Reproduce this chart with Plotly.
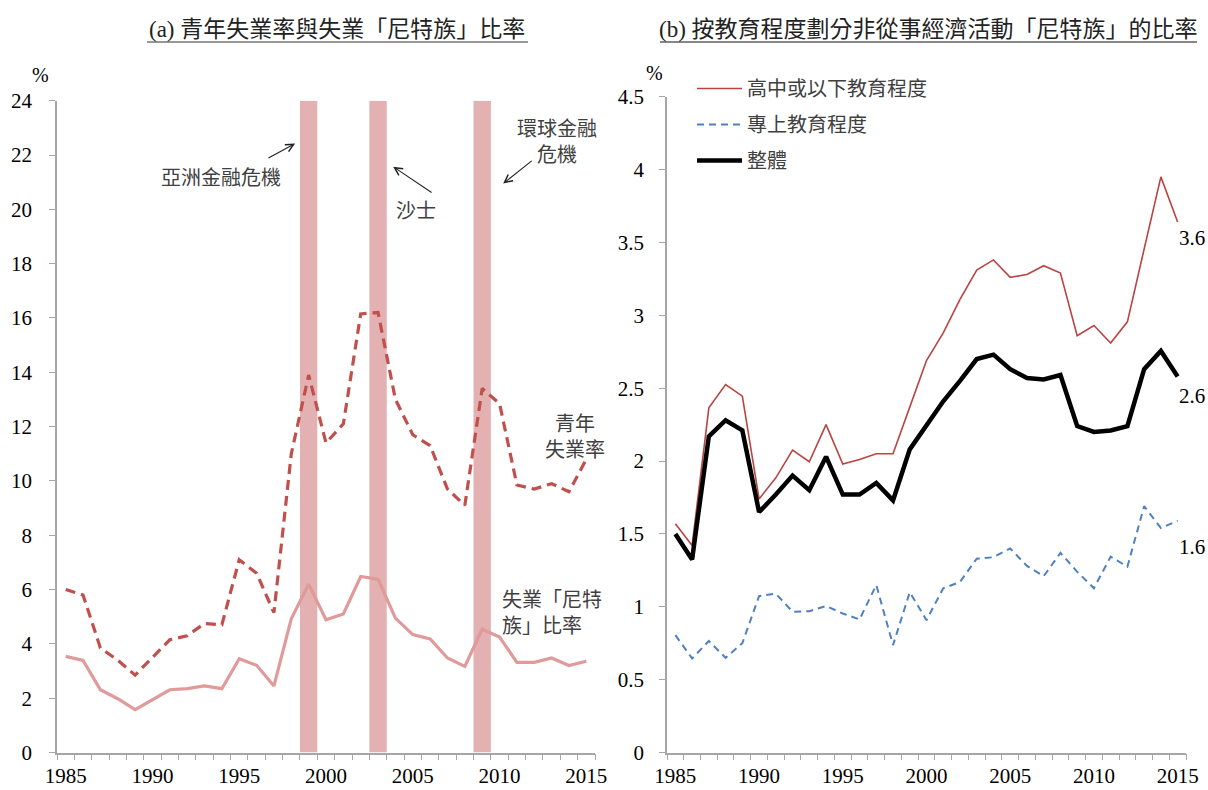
import plotly.graph_objects as go

# ---------------- data ----------------
years = list(range(1985, 2016))

# (a) youth unemployment rate and unemployed "NEET" rate (%)
youth_unemp = [6.0, 5.8, 3.85, 3.4, 2.85, 3.5, 4.15, 4.3, 4.75, 4.7,
               7.1, 6.6, 5.15, 11.0, 13.9, 11.4, 12.1, 16.15, 16.2, 13.0,
               11.7, 11.3, 9.7, 9.1, 13.4, 12.85, 9.85, 9.7, 9.9, 9.6, 10.8]
neet_unemp = [3.54, 3.39, 2.31, 1.98, 1.58, 1.95, 2.31, 2.35, 2.45, 2.35,
              3.45, 3.21, 2.45, 4.92, 6.2, 4.89, 5.1, 6.48, 6.38, 4.95,
              4.34, 4.18, 3.48, 3.17, 4.54, 4.25, 3.32, 3.32, 3.48, 3.2, 3.36]
crisis_years = [1999, 2003, 2009]

# (b) inactive "NEET" rate by education (%)
hs_below = [1.57, 1.42, 2.365, 2.525, 2.445, 1.74, 1.885, 2.075, 1.995, 2.25,
            1.98, 2.01, 2.05, 2.05, 2.37, 2.69, 2.88, 3.11, 3.31, 3.38,
            3.26, 3.28, 3.34, 3.29, 2.86, 2.93, 2.81, 2.955, 3.455, 3.95, 3.64]
post_sec = [0.805, 0.645, 0.765, 0.65, 0.75, 1.073, 1.09, 0.966, 0.97, 1.005,
            0.954, 0.913, 1.149, 0.737, 1.10, 0.908, 1.127, 1.17, 1.33, 1.34,
            1.40, 1.28, 1.21, 1.37, 1.24, 1.127, 1.344, 1.275, 1.69, 1.54, 1.59]
overall = [1.50, 1.325, 2.17, 2.28, 2.21, 1.65, 1.77, 1.90, 1.80, 2.03,
           1.77, 1.77, 1.85, 1.73, 2.08, 2.24, 2.41, 2.55, 2.70, 2.73,
           2.63, 2.57, 2.56, 2.59, 2.24, 2.20, 2.21, 2.24, 2.63, 2.755, 2.58]

x_ticks = [1985, 1990, 1995, 2000, 2005, 2010, 2015]
left_yticks = [0, 2, 4, 6, 8, 10, 12, 14, 16, 18, 20, 22, 24]
right_yticks = [0, 0.5, 1, 1.5, 2, 2.5, 3, 3.5, 4, 4.5]

# ---------------- style ----------------
W, H = 1208, 790
SERIF = "Liberation Serif, Times New Roman, serif"
CJK = "Noto Sans CJK TC, sans-serif"
MIX = "Liberation Serif, Noto Sans CJK TC, serif"
AXIS_GREY = "#A6A6A6"
TXT_GREY = "#404040"
LEFT_YMAX = 24


def px_x(p):
    """screen pixel x -> paper fraction"""
    return p / W


def px_y(p):
    """screen pixel y -> paper fraction"""
    return (H - p) / H


fig = go.Figure()

# crisis shading bars (left panel)
fig.add_trace(go.Bar(x=crisis_years, y=[LEFT_YMAX] * len(crisis_years), width=1,
                     marker=dict(color="#E3B1B1", line=dict(width=0)),
                     xaxis="x", yaxis="y", showlegend=False, hoverinfo="skip"))
fig.add_trace(go.Scatter(x=years, y=neet_unemp, mode="lines",
                         line=dict(color="#E09A9A", width=3.2),
                         xaxis="x", yaxis="y", showlegend=False))
fig.add_trace(go.Scatter(x=years, y=youth_unemp, mode="lines",
                         line=dict(color="#C0504D", width=3.2, dash="10px,6px"),
                         xaxis="x", yaxis="y", showlegend=False))

# right panel
fig.add_trace(go.Scatter(x=years, y=hs_below, mode="lines", name="高中或以下教育程度",
                         line=dict(color="#B94442", width=1.6),
                         xaxis="x2", yaxis="y2", legendgroup="a"))
fig.add_trace(go.Scatter(x=years, y=post_sec, mode="lines", name="專上教育程度",
                         line=dict(color="#4F81BD", width=2, dash="7px,5px"),
                         xaxis="x2", yaxis="y2", legendgroup="b"))
fig.add_trace(go.Scatter(x=years, y=overall, mode="lines", name="整體",
                         line=dict(color="#000000", width=4.5),
                         xaxis="x2", yaxis="y2", legendgroup="c"))

xaxis_common = dict(
    range=[years[0] - 0.5, years[-1] + 0.5],
    tickvals=x_ticks, ticktext=[str(v) for v in x_ticks],
    ticks="", showgrid=False, zeroline=False, automargin=False,
    showline=True, linecolor=AXIS_GREY, linewidth=1.5,
    tickfont=dict(family=SERIF, size=21, color="black"),
    ticklabelstandoff=4,
    minor=dict(ticks="outside", tick0=years[0] - 0.5, dtick=1, ticklen=6,
               tickcolor=AXIS_GREY, tickwidth=1.2, showgrid=False),
    fixedrange=True,
)
yaxis_common = dict(
    ticks="outside", ticklen=6, tickcolor=AXIS_GREY, tickwidth=1.2,
    showgrid=False, zeroline=False, automargin=False,
    showline=True, linecolor=AXIS_GREY, linewidth=1.5,
    tickfont=dict(family=SERIF, size=21, color="black"),
    fixedrange=True,
)

fig.update_layout(
    width=W, height=H,
    margin=dict(l=0, r=0, t=0, b=0, autoexpand=False),
    paper_bgcolor="white", plot_bgcolor="white",
    barmode="overlay",
    xaxis=dict(domain=[px_x(57), px_x(595)], anchor="y", **xaxis_common),
    yaxis=dict(domain=[px_y(752.5), px_y(100.7)], anchor="x", range=[0, LEFT_YMAX],
               tickvals=left_yticks, ticktext=[str(v) for v in left_yticks],
               ticklabelstandoff=13, **yaxis_common),
    xaxis2=dict(domain=[px_x(667), px_x(1186)], anchor="y2", **xaxis_common),
    yaxis2=dict(domain=[px_y(752.5), px_y(96.7)], anchor="x2", range=[0, right_yticks[-1]],
                tickvals=right_yticks, ticktext=[f"{v:g}" for v in right_yticks],
                ticklabelstandoff=11, **yaxis_common),
    legend=dict(x=px_x(692), y=px_y(69), xanchor="left", yanchor="top",
                font=dict(family=CJK, size=20, color=TXT_GREY),
                bgcolor="rgba(0,0,0,0)", tracegroupgap=7, itemwidth=45),
    showlegend=True,
)

ann = []
# titles
ann.append(dict(text="(a) 青年失業率與失業「尼特族」比率", x=px_x(337), y=px_y(30),
                xref="paper", yref="paper", showarrow=False, xanchor="center", yanchor="middle",
                font=dict(family=MIX, size=23, color="#222222")))
ann.append(dict(text="(b) 按教育程度劃分非從事經濟活動「尼特族」的比率", x=px_x(928), y=px_y(30),
                xref="paper", yref="paper", showarrow=False, xanchor="center", yanchor="middle",
                font=dict(family=MIX, size=23, color="#222222")))
# % units
ann.append(dict(text="%", x=px_x(40), y=px_y(75), xref="paper", yref="paper", showarrow=False,
                xanchor="center", yanchor="middle",
                font=dict(family=SERIF, size=20, color="black")))
ann.append(dict(text="%", x=px_x(654), y=px_y(73), xref="paper", yref="paper", showarrow=False,
                xanchor="center", yanchor="middle",
                font=dict(family=SERIF, size=20, color="black")))

# left annotations
cjk_font = dict(family=CJK, size=20, color=TXT_GREY)
ann.append(dict(text="亞洲金融危機", x=1993.95, y=21.22, xref="x", yref="y", showarrow=False,
                xanchor="center", font=cjk_font))
ann.append(dict(text="沙士", x=2005.19, y=20.0, xref="x", yref="y", showarrow=False,
                xanchor="center", font=cjk_font))
ann.append(dict(text="環球金融<br>危機", x=2013.32, y=22.53, xref="x", yref="y", showarrow=False,
                xanchor="center", font=cjk_font))
ann.append(dict(text="青年<br>失業率", x=2014.35, y=11.67, xref="x", yref="y", showarrow=False,
                xanchor="center", font=cjk_font))
ann.append(dict(text="失業「尼特<br>族」比率", x=2010.0, y=5.2, xref="x", yref="y", showarrow=False,
                xanchor="left", align="left", font=cjk_font))

# arrows
arrow_style = dict(showarrow=True, arrowhead=5, arrowsize=1.4, arrowwidth=1.1, arrowcolor="#222222",
                   text="", xref="x", yref="y", axref="x", ayref="y")
ann.append(dict(x=1998.22, y=22.42, ax=1996.6, ay=21.86, **arrow_style))
ann.append(dict(x=2003.87, y=21.57, ax=2006.17, ay=20.58, **arrow_style))
ann.append(dict(x=2010.21, y=20.95, ax=2011.94, ay=21.83, **arrow_style))

# end value labels (right)
for series, shift in [(hs_below, -16), (overall, -19), (post_sec, -26)]:
    ann.append(dict(text=f"{series[-1]:.1f}", x=years[-1], y=series[-1], xref="x2", yref="y2",
                    showarrow=False, xanchor="left", yshift=shift, xshift=-1,
                    font=dict(family=SERIF, size=21, color="black")))

fig.update_layout(annotations=ann)

# title underlines
fig.add_shape(type="line", xref="paper", yref="paper", x0=px_x(147), x1=px_x(528),
              y0=px_y(42), y1=px_y(42), line=dict(color="#333333", width=1.2))
fig.add_shape(type="line", xref="paper", yref="paper", x0=px_x(660), x1=px_x(1197),
              y0=px_y(42), y1=px_y(42), line=dict(color="#111111", width=1.2))

# remove the browser's default 8px page margin so the figure fills the window exactly
fig.write_html("out.html", config={"displayModeBar": False},
               post_script="document.body.style.margin='0px';")
